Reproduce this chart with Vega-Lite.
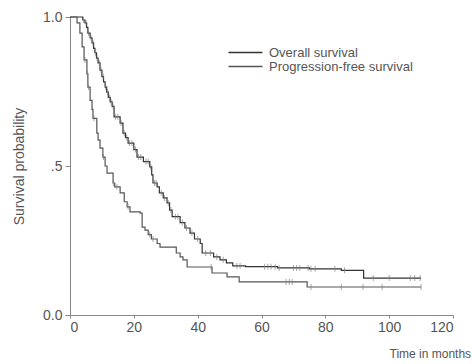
{
  "$schema": "https://vega.github.io/schema/vega-lite/v6.json",
  "width": 383,
  "height": 298,
  "autosize": {"type": "none"},
  "padding": {"left": 70, "top": 17, "right": 19, "bottom": 49},
  "config": {
    "view": {"stroke": null},
    "font": "Liberation Sans",
    "axis": {
      "grid": false,
      "domainColor": "#888",
      "tickColor": "#888",
      "labelColor": "#555",
      "titleColor": "#555",
      "labelFontSize": 14,
      "titleFontWeight": "normal"
    },
    "legend": {
      "orient": "none",
      "legendX": 169,
      "legendY": 29,
      "symbolType": "M-3,0H3",
      "symbolSize": 128,
      "symbolStrokeWidth": 1.5,
      "labelFontSize": 13,
      "labelColor": "#555",
      "labelOffset": 17,
      "rowPadding": 0,
      "padding": 0
    }
  },
  "datasets": {
    "curves": [
      {"curve": "Overall survival", "t": 0, "s": 1.0},
      {"curve": "Overall survival", "t": 3, "s": 1.0},
      {"curve": "Overall survival", "t": 4, "s": 0.99},
      {"curve": "Overall survival", "t": 4.7, "s": 0.98},
      {"curve": "Overall survival", "t": 5.2, "s": 0.965},
      {"curve": "Overall survival", "t": 5.6, "s": 0.946},
      {"curve": "Overall survival", "t": 6.3, "s": 0.93},
      {"curve": "Overall survival", "t": 6.9, "s": 0.913},
      {"curve": "Overall survival", "t": 7.4, "s": 0.895},
      {"curve": "Overall survival", "t": 7.8, "s": 0.88},
      {"curve": "Overall survival", "t": 8.3, "s": 0.862},
      {"curve": "Overall survival", "t": 8.8, "s": 0.846},
      {"curve": "Overall survival", "t": 9.4, "s": 0.822},
      {"curve": "Overall survival", "t": 10, "s": 0.8},
      {"curve": "Overall survival", "t": 10.5, "s": 0.782},
      {"curve": "Overall survival", "t": 11, "s": 0.765},
      {"curve": "Overall survival", "t": 11.5, "s": 0.748},
      {"curve": "Overall survival", "t": 12, "s": 0.73},
      {"curve": "Overall survival", "t": 12.6, "s": 0.715},
      {"curve": "Overall survival", "t": 13.2, "s": 0.7},
      {"curve": "Overall survival", "t": 13.8, "s": 0.665},
      {"curve": "Overall survival", "t": 15.7, "s": 0.644},
      {"curve": "Overall survival", "t": 16.6, "s": 0.61},
      {"curve": "Overall survival", "t": 17.4, "s": 0.595},
      {"curve": "Overall survival", "t": 18.2, "s": 0.577},
      {"curve": "Overall survival", "t": 20, "s": 0.555},
      {"curve": "Overall survival", "t": 21, "s": 0.53},
      {"curve": "Overall survival", "t": 23, "s": 0.515},
      {"curve": "Overall survival", "t": 25, "s": 0.497},
      {"curve": "Overall survival", "t": 25.6, "s": 0.47},
      {"curve": "Overall survival", "t": 26, "s": 0.443},
      {"curve": "Overall survival", "t": 27.3, "s": 0.43},
      {"curve": "Overall survival", "t": 28, "s": 0.41},
      {"curve": "Overall survival", "t": 29.2, "s": 0.393},
      {"curve": "Overall survival", "t": 30.4, "s": 0.376},
      {"curve": "Overall survival", "t": 31.2, "s": 0.352},
      {"curve": "Overall survival", "t": 32, "s": 0.33},
      {"curve": "Overall survival", "t": 34.5, "s": 0.31},
      {"curve": "Overall survival", "t": 36, "s": 0.292},
      {"curve": "Overall survival", "t": 37.6, "s": 0.275},
      {"curve": "Overall survival", "t": 39, "s": 0.255},
      {"curve": "Overall survival", "t": 40.8, "s": 0.24},
      {"curve": "Overall survival", "t": 41.4, "s": 0.208},
      {"curve": "Overall survival", "t": 45, "s": 0.195},
      {"curve": "Overall survival", "t": 47, "s": 0.185},
      {"curve": "Overall survival", "t": 49, "s": 0.175},
      {"curve": "Overall survival", "t": 51, "s": 0.165},
      {"curve": "Overall survival", "t": 55, "s": 0.162},
      {"curve": "Overall survival", "t": 65, "s": 0.158},
      {"curve": "Overall survival", "t": 75, "s": 0.155},
      {"curve": "Overall survival", "t": 85, "s": 0.15},
      {"curve": "Overall survival", "t": 92, "s": 0.124},
      {"curve": "Overall survival", "t": 110, "s": 0.124},
      {"curve": "Progression-free survival", "t": 0, "s": 1.0},
      {"curve": "Progression-free survival", "t": 1.5, "s": 1.0},
      {"curve": "Progression-free survival", "t": 2.2, "s": 0.98},
      {"curve": "Progression-free survival", "t": 3.1, "s": 0.946},
      {"curve": "Progression-free survival", "t": 3.8, "s": 0.9},
      {"curve": "Progression-free survival", "t": 4.4, "s": 0.856},
      {"curve": "Progression-free survival", "t": 5.3, "s": 0.81},
      {"curve": "Progression-free survival", "t": 5.6, "s": 0.765},
      {"curve": "Progression-free survival", "t": 6.3, "s": 0.72},
      {"curve": "Progression-free survival", "t": 6.9, "s": 0.69},
      {"curve": "Progression-free survival", "t": 7.2, "s": 0.66},
      {"curve": "Progression-free survival", "t": 8.4, "s": 0.61},
      {"curve": "Progression-free survival", "t": 8.8, "s": 0.587},
      {"curve": "Progression-free survival", "t": 9.4, "s": 0.56},
      {"curve": "Progression-free survival", "t": 10.3, "s": 0.53},
      {"curve": "Progression-free survival", "t": 11, "s": 0.5},
      {"curve": "Progression-free survival", "t": 11.6, "s": 0.476},
      {"curve": "Progression-free survival", "t": 13.5, "s": 0.443},
      {"curve": "Progression-free survival", "t": 14, "s": 0.43},
      {"curve": "Progression-free survival", "t": 15.7, "s": 0.41},
      {"curve": "Progression-free survival", "t": 17, "s": 0.38},
      {"curve": "Progression-free survival", "t": 17.9, "s": 0.363},
      {"curve": "Progression-free survival", "t": 18.8, "s": 0.346},
      {"curve": "Progression-free survival", "t": 22, "s": 0.342},
      {"curve": "Progression-free survival", "t": 22.6, "s": 0.295},
      {"curve": "Progression-free survival", "t": 23.5, "s": 0.285},
      {"curve": "Progression-free survival", "t": 24.5, "s": 0.27},
      {"curve": "Progression-free survival", "t": 25.5, "s": 0.255},
      {"curve": "Progression-free survival", "t": 27.3, "s": 0.24},
      {"curve": "Progression-free survival", "t": 28.2, "s": 0.228},
      {"curve": "Progression-free survival", "t": 33.3, "s": 0.208},
      {"curve": "Progression-free survival", "t": 34.5, "s": 0.195},
      {"curve": "Progression-free survival", "t": 35.4, "s": 0.185},
      {"curve": "Progression-free survival", "t": 36.7, "s": 0.161},
      {"curve": "Progression-free survival", "t": 44.5, "s": 0.141},
      {"curve": "Progression-free survival", "t": 49.2, "s": 0.128},
      {"curve": "Progression-free survival", "t": 53, "s": 0.111},
      {"curve": "Progression-free survival", "t": 74.3, "s": 0.094},
      {"curve": "Progression-free survival", "t": 110, "s": 0.094}
    ],
    "censored": [
      {"t": 4.2, "s": 0.99}, {"t": 5.0, "s": 0.98}, {"t": 5.8, "s": 0.946}, {"t": 6.6, "s": 0.93},
      {"t": 7.2, "s": 0.913}, {"t": 8.0, "s": 0.88}, {"t": 8.5, "s": 0.862}, {"t": 9.2, "s": 0.846},
      {"t": 9.7, "s": 0.822}, {"t": 10.4, "s": 0.8}, {"t": 11.2, "s": 0.765}, {"t": 11.8, "s": 0.748},
      {"t": 12.4, "s": 0.73}, {"t": 12.9, "s": 0.715}, {"t": 13.5, "s": 0.7}, {"t": 14.3, "s": 0.665},
      {"t": 15.0, "s": 0.665}, {"t": 16.0, "s": 0.644}, {"t": 17.0, "s": 0.61}, {"t": 17.8, "s": 0.595},
      {"t": 18.6, "s": 0.577}, {"t": 19.4, "s": 0.577}, {"t": 20.5, "s": 0.555}, {"t": 21.5, "s": 0.53},
      {"t": 22.2, "s": 0.53}, {"t": 23.8, "s": 0.515}, {"t": 24.5, "s": 0.515}, {"t": 25.3, "s": 0.497},
      {"t": 26.5, "s": 0.443}, {"t": 27.0, "s": 0.443}, {"t": 28.6, "s": 0.41}, {"t": 29.6, "s": 0.393},
      {"t": 30.8, "s": 0.376}, {"t": 31.6, "s": 0.352}, {"t": 33.0, "s": 0.33}, {"t": 33.8, "s": 0.33},
      {"t": 35.2, "s": 0.31}, {"t": 36.5, "s": 0.292}, {"t": 38.2, "s": 0.275}, {"t": 40.0, "s": 0.255},
      {"t": 42.5, "s": 0.208}, {"t": 44.0, "s": 0.208}, {"t": 46.0, "s": 0.195}, {"t": 48.0, "s": 0.185},
      {"t": 52.3, "s": 0.165}, {"t": 53.3, "s": 0.165}, {"t": 61.0, "s": 0.162}, {"t": 62.0, "s": 0.162},
      {"t": 63.0, "s": 0.162}, {"t": 64.3, "s": 0.162}, {"t": 65.5, "s": 0.158}, {"t": 70, "s": 0.158},
      {"t": 71, "s": 0.158}, {"t": 72, "s": 0.158}, {"t": 74.6, "s": 0.158}, {"t": 75.5, "s": 0.155},
      {"t": 76.8, "s": 0.155}, {"t": 83, "s": 0.155}, {"t": 86, "s": 0.15}, {"t": 95, "s": 0.124},
      {"t": 100, "s": 0.124}, {"t": 106.6, "s": 0.124}, {"t": 108, "s": 0.124}, {"t": 109.7, "s": 0.124},
      {"t": 4.7, "s": 0.856}, {"t": 5.4, "s": 0.81}, {"t": 5.8, "s": 0.765}, {"t": 7.5, "s": 0.66},
      {"t": 10.5, "s": 0.53}, {"t": 13.6, "s": 0.443}, {"t": 14.7, "s": 0.43}, {"t": 18.2, "s": 0.363},
      {"t": 25.0, "s": 0.27}, {"t": 26.0, "s": 0.255}, {"t": 44.2, "s": 0.161}, {"t": 67.7, "s": 0.111},
      {"t": 68.7, "s": 0.111}, {"t": 69.6, "s": 0.111}, {"t": 75.5, "s": 0.094}, {"t": 85, "s": 0.094},
      {"t": 91.8, "s": 0.094}, {"t": 97.8, "s": 0.094}, {"t": 110, "s": 0.094}
    ]
  },
  "layer": [
    {
      "data": {"name": "curves"},
      "mark": {"type": "line", "interpolate": "step-after", "strokeWidth": 1.2},
      "encoding": {
        "x": {
          "field": "t", "type": "quantitative",
          "scale": {"domain": [0, 120], "nice": false},
          "axis": {
            "values": [0, 20, 40, 60, 80, 100, 120],
            "title": "Time in months",
            "titleFontSize": 12,
            "titleX": 319,
            "titleY": 42,
            "titleAlign": "left",
            "titleBaseline": "alphabetic",
            "tickSize": 3,
            "labelPadding": 2
          }
        },
        "y": {
          "field": "s", "type": "quantitative",
          "scale": {"domain": [0, 1], "nice": false},
          "axis": {
            "values": [0, 0.5, 1],
            "labelExpr": "datum.value == 0.5 ? '.5' : format(datum.value, '.1f')",
            "title": "Survival probability",
            "titleFontSize": 14,
            "titlePadding": 16,
            "tickSize": 5,
            "labelPadding": 3
          }
        },
        "color": {
          "field": "curve", "type": "nominal",
          "scale": {"domain": ["Overall survival", "Progression-free survival"], "range": ["#333333", "#555555"]},
          "legend": {"title": null}
        }
      }
    },
    {
      "data": {"name": "censored"},
      "mark": {"type": "tick", "orient": "vertical", "size": 6, "thickness": 1, "color": "#808080"},
      "encoding": {
        "x": {"field": "t", "type": "quantitative"},
        "y": {"field": "s", "type": "quantitative"}
      }
    }
  ]
}
